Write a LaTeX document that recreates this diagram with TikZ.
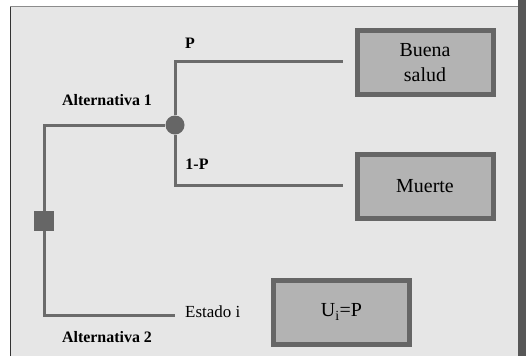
\documentclass[tikz,border=0pt]{standalone}
\usepackage{fontspec}
\setmainfont{Liberation Serif}
\definecolor{bgc}{HTML}{E6E6E6}
\definecolor{linec}{HTML}{6B6B6B}
\definecolor{boxfill}{HTML}{B3B3B3}
\definecolor{boxedge}{HTML}{666666}
\definecolor{barc}{HTML}{575757}
\tikzset{
  branch/.style={draw=linec, line width=3bp},
  outcome/.style={draw=boxedge, fill=boxfill, line width=5bp, minimum width=136bp, minimum height=64bp, inner sep=0pt, align=center, font=\fontsize{20}{25}\selectfont},
  lab/.style={font=\bfseries\fontsize{16}{18}\selectfont, inner sep=0pt},
  labr/.style={font=\fontsize{17}{19}\selectfont, inner sep=0pt},
}
\begin{document}
\begin{tikzpicture}[x=1bp,y=-1bp]
\useasboundingbox (0,0) rectangle (526,356);
\fill[white] (0,0) rectangle (526,356);
\fill[bgc] (10,6) rectangle (518,356);
\draw[black!80, line width=1bp] (10.5,356) -- (10.5,6.5);
\draw[black!45, line width=1.2bp] (10,6.5) -- (518,6.5);
\fill[barc] (518,0) rectangle (526,356);

% decision and chance nodes
\node[fill=boxedge, minimum size=20bp, inner sep=0pt] (dec) at (44,221) {};
\node[circle, fill=boxedge, minimum size=19bp, inner sep=0pt] (chance) at (175,125) {};

% outcome boxes
\node[outcome] (buena) at (425,62.5) {Buena\\salud};
\node[outcome] (muerte) at (425,186) {Muerte};
\node[outcome, minimum width=136bp] (util) at (341.5,312) {U\textsubscript{i}=P};

% free ends
\coordinate (pend) at (343,61);
\coordinate (mend) at (343,185);
\coordinate (eend) at (175,315);

% connectors
\draw[branch] (dec.north) |- (chance.west);
\draw[branch] (dec.south) |- (eend);
\draw[branch] (chance.north) |- (pend);
\draw[branch] (chance.south) |- (mend);

% labels
\node[lab] (lp) at (190,43) {P};
\node[lab] (lalt1) at (107,100) {Alternativa 1};
\node[lab] (l1p) at (197,164) {1-P};
\node[labr, anchor=west] (lest) at (185,312) {Estado i};
\node[lab] (lalt2) at (107,337) {Alternativa 2};
\end{tikzpicture}
\end{document}
